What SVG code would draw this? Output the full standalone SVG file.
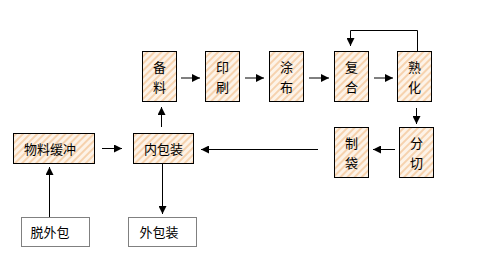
<svg xmlns="http://www.w3.org/2000/svg" width="480" height="280" viewBox="0 0 480 280">
<defs>
<pattern id="hatch" width="5" height="5" patternUnits="userSpaceOnUse" patternTransform="rotate(45)">
<rect width="5" height="5" fill="#fdf3e8"/>
<rect width="2" height="5" fill="#f6d2ae"/>
</pattern>
<marker id="ah" viewBox="0 0 10 10" refX="10" refY="5" markerWidth="8" markerHeight="8" markerUnits="userSpaceOnUse" orient="auto">
<path d="M0,0 L10,5 L0,10 Z" fill="#000"/>
</marker>
<style>
.box{fill:url(#hatch);stroke:#000;stroke-width:1}
.dbox{fill:#fff;stroke:#000;stroke-width:1;stroke-dasharray:1 1}
.t{font-family:"Noto Sans CJK SC","Noto Sans CJK JP",sans-serif;font-size:13px;fill:#000;text-anchor:middle}
.c{fill:none;stroke:#000;stroke-width:1;marker-end:url(#ah)}
</style>
</defs>
<rect width="480" height="280" fill="#fff"/>
<g id="connectors">
<line class="c" x1="181" y1="78" x2="200" y2="78"/>
<line class="c" x1="245" y1="78" x2="264" y2="78"/>
<line class="c" x1="309" y1="78" x2="329" y2="78"/>
<line class="c" x1="374" y1="78" x2="393" y2="78"/>
<polyline class="c" points="417.5,51 417.5,30.5 350.5,30.5 350.5,46"/>
<line class="c" x1="416.5" y1="108" x2="416.5" y2="124"/>
<line class="c" x1="395" y1="149.5" x2="373" y2="149.5"/>
<line class="c" x1="318" y1="149.5" x2="201" y2="149.5"/>
<line class="c" x1="102" y1="148.5" x2="122" y2="148.5"/>
<line class="c" x1="161.5" y1="127" x2="161.5" y2="107"/>
<line class="c" x1="162.5" y1="163" x2="162.5" y2="214"/>
<line class="c" x1="49.5" y1="217" x2="49.5" y2="167"/>
</g>
<g id="beiliao"><rect class="box" x="142.5" y="51.5" width="34" height="50"/><text class="t" x="159.5" y="72">备</text><text class="t" x="159.5" y="92">料</text></g>
<g id="yinshua"><rect class="box" x="205.5" y="51.5" width="34" height="50"/><text class="t" x="222.5" y="72">印</text><text class="t" x="222.5" y="92">刷</text></g>
<g id="tubu"><rect class="box" x="269.5" y="51.5" width="34" height="50"/><text class="t" x="286.5" y="72">涂</text><text class="t" x="286.5" y="92">布</text></g>
<g id="fuhe"><rect class="box" x="334.5" y="51.5" width="34" height="50"/><text class="t" x="351.5" y="72">复</text><text class="t" x="351.5" y="92">合</text></g>
<g id="shuhua"><rect class="box" x="397.5" y="51.5" width="34" height="50"/><text class="t" x="414.5" y="72">熟</text><text class="t" x="414.5" y="92">化</text></g>
<g id="fenqie"><rect class="box" x="399.5" y="127.5" width="34" height="50"/><text class="t" x="416.5" y="148">分</text><text class="t" x="416.5" y="168">切</text></g>
<g id="zhidai"><rect class="box" x="334.5" y="127.5" width="34" height="50"/><text class="t" x="351.5" y="148">制</text><text class="t" x="351.5" y="168">袋</text></g>
<g id="neibaozhuang"><rect class="box" x="133.5" y="133.5" width="60" height="30"/><text class="t" x="163.5" y="154">内包装</text></g>
<g id="wuliaohuanchong"><rect class="box" x="13.5" y="133.5" width="81" height="30"/><text class="t" x="50" y="154">物料缓冲</text></g>
<g id="tuowaibao"><rect class="dbox" x="21.5" y="217.5" width="68" height="29"/><text class="t" x="50" y="237">脱外包</text></g>
<g id="waibaozhuang"><rect class="dbox" x="128.5" y="217.5" width="68" height="29"/><text class="t" x="159" y="237">外包装</text></g>
</svg>
